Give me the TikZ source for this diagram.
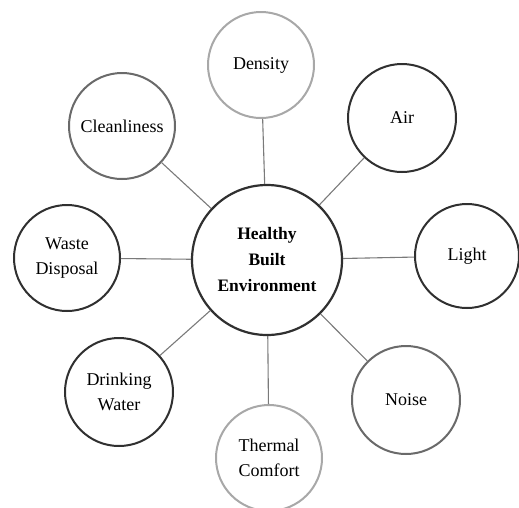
\documentclass[tikz,border=0pt]{standalone}
\usepackage{fontspec}
\setmainfont{Liberation Serif}
\usepackage{xcolor}
\usepackage{tikz}
\usetikzlibrary{positioning}
\definecolor{RingDark}{HTML}{303030}
\definecolor{RingMid}{HTML}{6A6A6A}
\definecolor{RingLight}{HTML}{A8A8A8}
\definecolor{SpokeGray}{HTML}{7A7A7A}
\newcommand{\factorcircle}[5]{%
  \node[circle,draw=#1,fill=white,line width=2pt,align=center,
        minimum size=#5,inner sep=0pt,font=\fontsize{18}{25}\selectfont] (#2) at #4
        {#3};}

\begin{document}
\begin{tikzpicture}[x=1pt,y=-1pt]
  \useasboundingbox (0,0) rectangle (519,507);
  \node[circle,draw=RingDark,line width=2.2pt,align=center,minimum size=150pt,
        inner sep=0pt,font=\bfseries\fontsize{17.5}{26}\selectfont] (hbe) at (267,260)
        {Healthy\\Built\\Environment};
  \factorcircle{RingLight}{density}{Density}{(261,65)}{106pt}
  \factorcircle{RingDark}{air}{Air}{(402,118)}{108pt}
  \factorcircle{RingDark}{light}{Light}{(467,256)}{104pt}
  \factorcircle{RingMid}{noise}{Noise}{(406,400)}{108pt}
  \factorcircle{RingLight}{thermal}{Thermal\\Comfort}{(269,458)}{106pt}
  \factorcircle{RingDark}{drinking}{Drinking\\Water}{(119,392)}{108pt}
  \factorcircle{RingDark}{waste}{Waste\\Disposal}{(67,258)}{106pt}
  \factorcircle{RingMid}{clean}{Cleanliness}{(122,126)}{106pt}
  \draw[SpokeGray,line width=1.1pt] (hbe) -- (density);
  \draw[SpokeGray,line width=1.1pt] (hbe) -- (air);
  \draw[SpokeGray,line width=1.1pt] (hbe) -- (light);
  \draw[SpokeGray,line width=1.1pt] (hbe) -- (noise);
  \draw[SpokeGray,line width=1.1pt] (hbe) -- (thermal);
  \draw[SpokeGray,line width=1.1pt] (hbe) -- (drinking);
  \draw[SpokeGray,line width=1.1pt] (hbe) -- (waste);
  \draw[SpokeGray,line width=1.1pt] (hbe) -- (clean);
\end{tikzpicture}
\end{document}
